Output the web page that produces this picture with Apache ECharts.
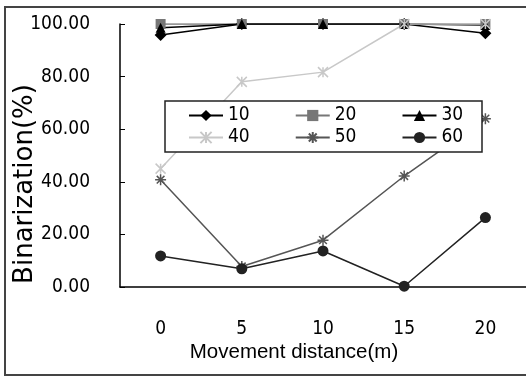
<!DOCTYPE html>
<html>
<head>
<meta charset="utf-8">
<script src="https://cdn.jsdelivr.net/npm/echarts@6/dist/echarts.min.js"></script>
<style>
  html, body { margin: 0; padding: 0; background: #fff; }
  #chart { width: 526px; height: 377px; }
</style>
</head>
<body>
<div id="chart"></div>
<script>
// x轴 类别
var distances = ['0', '5', '10', '15', '20']
// 每条线的数据
var s10 = [95.8, 100, 100, 100, 96.5]
var s20 = [100, 100, 100, 100, 100]
var s30 = [98.6, 100, 100, 100, 99.6]
var s40 = [45, 78, 81.7, 100, 100]
var s50 = [40.8, 7.8, 17.8, 42.2, 64]
var s60 = [11.8, 6.9, 13.7, 0.3, 26.4]

var narrow = '"Liberation Sans Narrow", "DejaVu Sans Condensed", "Liberation Sans", sans-serif'

var xMark = 'path://M0 0L10 10M0 10L10 0M5 0L5 10'
var starMark = 'path://M5 0L5 10M0 5L10 5M1.5 1.5L8.5 8.5M1.5 8.5L8.5 1.5'

function line(name, data, color, symbol, size, stroke) {
  var s = {
    name: name,
    type: 'line',
    data: data,
    symbol: symbol,
    symbolSize: size,
    showAllSymbol: true,
    lineStyle: { color: color, width: 1.5 },
    itemStyle: { color: color, borderColor: color, borderWidth: 0 },
    emphasis: { disabled: true }
  }
  if (stroke) {
    s.itemStyle = { color: 'none', borderColor: color, borderWidth: 1.5 }
  }
  return s
}

var chart = echarts.init(document.getElementById('chart'))
var option = {
  animation: false,
  grid: { left: 120, top: 24, width: 408, height: 263, containLabel: false },
  legend: [
    {
      data: ['10', '20', '30'],
      left: 188, top: 106, padding: 0, itemGap: 45,
      itemWidth: 34, itemHeight: 14, z: 10,
      textStyle: { fontFamily: narrow, fontSize: 19, color: '#000' }
    },
    {
      data: ['40', '50', '60'],
      left: 188, top: 128, padding: 0, itemGap: 45,
      itemWidth: 34, itemHeight: 14, z: 10,
      textStyle: { fontFamily: narrow, fontSize: 19, color: '#000' }
    }
  ],
  xAxis: {
    type: 'category',
    data: distances,
    boundaryGap: true,
    axisLine: { lineStyle: { color: '#000', width: 1.5 } },
    axisTick: { inside: true, length: 9, lineStyle: { color: '#000' } },
    axisLabel: { margin: 33, fontFamily: narrow, fontSize: 19, color: '#000' }
  },
  yAxis: {
    type: 'value',
    min: 0, max: 100, interval: 20,
    splitLine: { show: false },
    axisLine: { show: true, lineStyle: { color: '#000', width: 1.5 } },
    axisTick: { show: true, inside: true, length: 5, lineStyle: { color: '#000' } },
    axisLabel: {
      margin: 30, fontFamily: narrow, fontSize: 19, color: '#000',
      formatter: function (v) { return v.toFixed(2) }
    }
  },
  graphic: [
    // 外框
    {
      type: 'rect', z: 1, silent: true,
      shape: { x: 5, y: 7, width: 540, height: 368 },
      style: { fill: 'none', stroke: '#444', lineWidth: 2 }
    },
    // 图例框
    {
      type: 'rect', z: 8, silent: true,
      shape: { x: 165, y: 101, width: 317, height: 51 },
      style: { fill: '#fff', stroke: '#222', lineWidth: 1.5 }
    },
    {
      type: 'text', silent: true, z: 10,
      x: 25, y: 184, rotation: Math.PI / 2,
      style: {
        text: 'Binarization(%)', fill: '#000',
        font: '26px "DejaVu Sans", sans-serif',
        textAlign: 'center', textVerticalAlign: 'middle'
      }
    },
    {
      type: 'text', silent: true, z: 10,
      x: 294, y: 352,
      style: {
        text: 'Movement distance(m)', fill: '#000',
        font: '20.5px "Liberation Sans", sans-serif',
        textAlign: 'center', textVerticalAlign: 'middle'
      }
    }
  ],
  series: [
    line('10', s10, '#000', 'diamond', 12),
    line('20', s20, '#777', 'rect', 10),
    line('30', s30, '#000', 'triangle', 10),
    line('40', s40, '#c8c8c8', xMark, 10, true),
    line('50', s50, '#555', starMark, 11, true),
    line('60', s60, '#222', 'circle', 11)
  ]
}
chart.setOption(option)
</script>
</body>
</html>
